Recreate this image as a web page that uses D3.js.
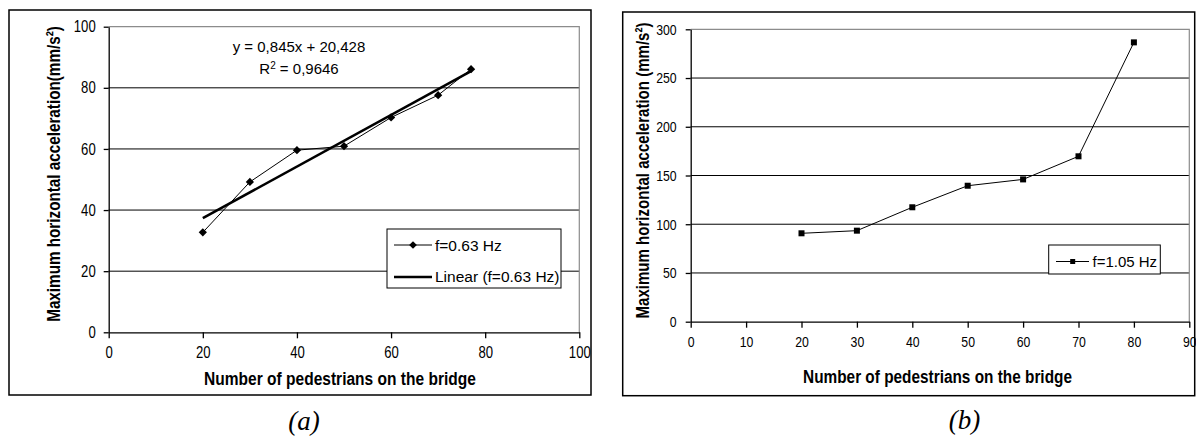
<!DOCTYPE html>
<html>
<head>
<meta charset="utf-8">
<script src="https://cdn.jsdelivr.net/npm/d3@7"></script>
<style>
  body { margin: 0; background: #fff; }
  svg { display: block; }
</style>
</head>
<body>
<svg id="chart" width="1196" height="440"></svg>
<script>
// ---- panel (a): f = 0.63 Hz
const pedestriansA = [20, 30, 40, 50, 60, 70, 77];
const accelA = [32.7, 49.2, 59.6, 60.9, 70.3, 77.6, 86.1];
const fitA = { slope: 0.845, intercept: 20.428, r2: "0,9646" };
const xTicksA = [0, 20, 40, 60, 80, 100];
const yTicksA = [0, 20, 40, 60, 80, 100];

// ---- panel (b): f = 1.05 Hz
const pedestriansB = [20, 30, 40, 50, 60, 70, 80];
const accelB = [90.7, 93.4, 117.4, 139.5, 146, 169.7, 286.6];
const xTicksB = [0, 10, 20, 30, 40, 50, 60, 70, 80, 90];
const yTicksB = [0, 50, 100, 150, 200, 250, 300];

const xTitle = "Number of pedestrians on the bridge";

const sans = "'Liberation Sans', Arial, sans-serif";
const squeeze = 0.82; // the original uses a narrow face; squeeze the regular one

const svg = d3.select("#chart");

// bold title squeezed horizontally to a target length
function squeezedTitle(g, text, len, cx, cy, angle) {
  const t = g.append("text")
    .attr("text-anchor", "middle")
    .style("font-family", sans).style("font-weight", "bold").style("font-size", "18.5px")
    .text(text);
  const sx = len / t.node().getComputedTextLength();
  t.attr("transform", `translate(${cx},${cy}) rotate(${angle}) scale(${sx},1)`);
  return t;
}

function drawPanel(cfg) {
  const g = svg.append("g");
  const p = cfg.plot;

  // outer frame
  g.append("rect")
    .attr("x", cfg.frame.x).attr("y", cfg.frame.y)
    .attr("width", cfg.frame.w).attr("height", cfg.frame.h)
    .attr("fill", "none").attr("stroke", "#000").attr("stroke-width", 1.5);

  const x = d3.scaleLinear().domain(d3.extent(cfg.xTicks)).range([p.left, p.right]);
  const y = d3.scaleLinear().domain(d3.extent(cfg.yTicks)).range([p.bottom, p.top]);

  // gridlines
  g.append("g").selectAll("line")
    .data(cfg.yTicks.slice(1, -1)).join("line")
    .attr("x1", p.left).attr("x2", p.right)
    .attr("y1", d => y(d)).attr("y2", d => y(d))
    .attr("stroke", "#000").attr("stroke-width", 1);

  // plot area border (top & right, gray)
  g.append("path")
    .attr("d", `M${p.left},${y(cfg.yTicks[cfg.yTicks.length - 1])}H${p.right}V${p.bottom}`)
    .attr("fill", "none").attr("stroke", "#8c8c8c").attr("stroke-width", 1.2);

  // axes
  const xAxisG = g.append("g")
    .attr("transform", `translate(0,${p.bottom})`)
    .call(d3.axisBottom(x).tickValues(cfg.xTicks).tickSize(6).tickSizeOuter(0).tickPadding(cfg.xPad));
  const yAxisG = g.append("g")
    .attr("transform", `translate(${p.left},0)`)
    .call(d3.axisLeft(y).tickValues(cfg.yTicks).tickSize(5).tickSizeOuter(0).tickPadding(cfg.yPad));

  [xAxisG, yAxisG].forEach(a => {
    a.selectAll("path, line").attr("stroke", "#000").attr("stroke-width", 1.3);
    a.selectAll("text")
      .attr("fill", "#000")
      .attr("transform", `scale(${squeeze},1)`)
      .style("font-family", sans)
      .style("font-size", cfg.tickFont + "px");
  });
  // undo the squeeze on the label offset of the y axis
  yAxisG.selectAll("text").attr("x", -(5 + cfg.yPad) / squeeze);

  // axis titles
  squeezedTitle(g, xTitle, cfg.xTitle.len, cfg.xTitle.x, cfg.xTitle.y, 0);
  squeezedTitle(g, cfg.yTitle.text, cfg.yTitle.len, cfg.yTitle.x, cfg.yTitle.y, -90);

  // caption
  g.append("text")
    .attr("x", cfg.caption.x).attr("y", cfg.caption.y)
    .attr("text-anchor", "middle")
    .style("font-family", "'Liberation Serif', 'Times New Roman', serif")
    .style("font-style", "italic").style("font-size", "27px")
    .text(cfg.caption.text);

  return { g, x, y };
}

// ================= panel (a)
const A = drawPanel({
  frame: { x: 9, y: 10, w: 582, h: 385 },
  plot: { left: 108.7, right: 579.3, top: 26.7, bottom: 332.3 },
  xTicks: xTicksA, yTicks: yTicksA,
  xPad: 8, yPad: 8, tickFont: 16,
  xTitle: { x: 340, y: 385, len: 272 },
  yTitle: { x: 60, y: 174, len: 296, text: "Maximum horizontal acceleration(mm/s²)" },
  caption: { x: 304, y: 430, text: "(a)" }
});

const dataA = pedestriansA.map((d, i) => ({ x: d, y: accelA[i] }));

// linear trend
const fitX = d3.extent(pedestriansA);
A.g.append("line")
  .attr("x1", A.x(fitX[0])).attr("y1", A.y(fitA.slope * fitX[0] + fitA.intercept))
  .attr("x2", A.x(fitX[1])).attr("y2", A.y(fitA.slope * fitX[1] + fitA.intercept))
  .attr("stroke", "#000").attr("stroke-width", 2.6);

A.g.append("path")
  .datum(dataA)
  .attr("fill", "none").attr("stroke", "#000").attr("stroke-width", 1)
  .attr("d", d3.line().x(d => A.x(d.x)).y(d => A.y(d.y)));

A.g.append("g").selectAll("path")
  .data(dataA).join("path")
  .attr("transform", d => `translate(${A.x(d.x)},${A.y(d.y)}) rotate(45)`)
  .attr("d", d3.symbol().type(d3.symbolSquare).size(34))
  .attr("fill", "#000");

// regression equation
const eq = A.g.append("text")
  .attr("text-anchor", "middle")
  .style("font-family", sans).style("font-size", "15px");
eq.append("tspan").attr("x", 299).attr("y", 51.5)
  .text(`y = ${String(fitA.slope).replace(".", ",")}x + ${String(fitA.intercept).replace(".", ",")}`);
const r2 = eq.append("tspan").attr("x", 299).attr("y", 74);
r2.append("tspan").text("R");
r2.append("tspan").attr("dy", -5).style("font-size", "10px").text("2");
r2.append("tspan").attr("dy", 5).text(` = ${fitA.r2}`);

// legend (a)
const legA = A.g.append("g");
legA.append("rect").attr("x", 387).attr("y", 229).attr("width", 174).attr("height", 59)
  .attr("fill", "#fff").attr("stroke", "#000").attr("stroke-width", 1);
legA.append("line").attr("x1", 394).attr("x2", 432).attr("y1", 245).attr("y2", 245)
  .attr("stroke", "#000").attr("stroke-width", 1);
legA.append("path").attr("transform", "translate(413,245) rotate(45)")
  .attr("d", d3.symbol().type(d3.symbolSquare).size(30)).attr("fill", "#000");
legA.append("text").attr("x", 435).attr("y", 250.5)
  .style("font-family", sans).style("font-size", "15.5px").text("f=0.63 Hz");
legA.append("line").attr("x1", 394).attr("x2", 432).attr("y1", 277).attr("y2", 277)
  .attr("stroke", "#000").attr("stroke-width", 2.6);
legA.append("text").attr("x", 435).attr("y", 281.5)
  .style("font-family", sans).style("font-size", "15.5px").text("Linear (f=0.63 Hz)");

// ================= panel (b)
const B = drawPanel({
  frame: { x: 622.7, y: 12, w: 572, h: 383.7 },
  plot: { left: 690.7, right: 1189.3, top: 29.3, bottom: 321.7 },
  xTicks: xTicksB, yTicks: yTicksB,
  xPad: 9, yPad: 9, tickFont: 15,
  xTitle: { x: 937.5, y: 383.3, len: 269 },
  yTitle: { x: 649, y: 170.5, len: 296, text: "Maximum horizontal acceleration (mm/s²)" },
  caption: { x: 964.5, y: 429, text: "(b)" }
});

const dataB = pedestriansB.map((d, i) => ({ x: d, y: accelB[i] }));

B.g.append("path")
  .datum(dataB)
  .attr("fill", "none").attr("stroke", "#000").attr("stroke-width", 1)
  .attr("d", d3.line().x(d => B.x(d.x)).y(d => B.y(d.y)));

B.g.append("g").selectAll("rect")
  .data(dataB).join("rect")
  .attr("x", d => B.x(d.x) - 3).attr("y", d => B.y(d.y) - 3)
  .attr("width", 6).attr("height", 6)
  .attr("fill", "#000");

// legend (b)
const legB = B.g.append("g");
legB.append("rect").attr("x", 1048.7).attr("y", 245).attr("width", 111.6).attr("height", 29)
  .attr("fill", "#fff").attr("stroke", "#000").attr("stroke-width", 1);
legB.append("line").attr("x1", 1056).attr("x2", 1089).attr("y1", 261.5).attr("y2", 261.5)
  .attr("stroke", "#000").attr("stroke-width", 1);
legB.append("rect").attr("x", 1070.2).attr("y", 259).attr("width", 5).attr("height", 5).attr("fill", "#000");
legB.append("text").attr("x", 1092.5).attr("y", 266.5)
  .style("font-family", sans).style("font-size", "15px").text("f=1.05 Hz");
</script>
</body>
</html>
